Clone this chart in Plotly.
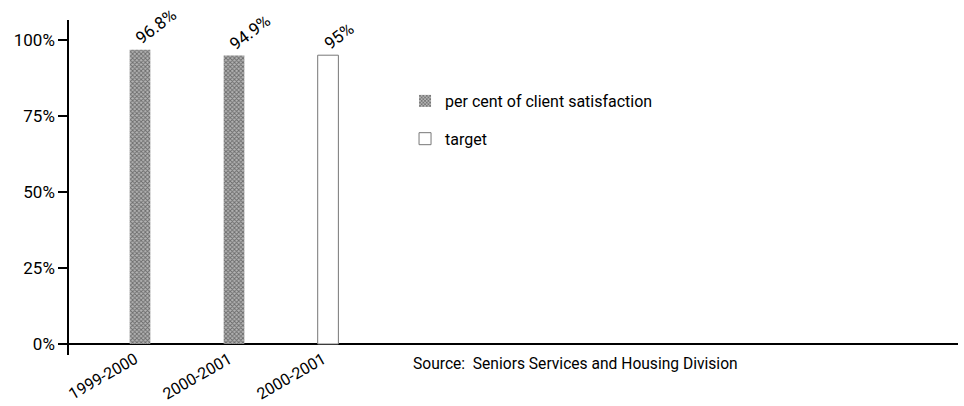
import plotly.graph_objects as go

categories = ["1999-2000", "2000-2001", "2000-2001"]
positions = [0, 1, 2]
satisfaction = [96.8, 94.9]
target = [95]
labels = ["96.8%", "94.9%", "95%"]
y_ticks = [0, 25, 50, 75, 100]
y_ticktext = ["0%", "25%", "50%", "75%", "100%"]

FONT = "Roboto, Open Sans, sans-serif"
BAR_W = 0.22

fig = go.Figure()
fig.add_trace(go.Bar(
    x=positions[:2], y=satisfaction, width=BAR_W,
    name="per cent of client satisfaction",
    marker=dict(color="#999", line=dict(width=0),
                pattern=dict(shape="x", fgcolor="#222", bgcolor="#b4b4b4", size=3, solidity=0.5)),
    legendgroup="a",
))
fig.add_trace(go.Bar(
    x=positions[2:], y=target, width=BAR_W,
    name="target",
    marker=dict(color="white", line=dict(width=1, color="#777")),
    legendgroup="b",
))

for xp, v, t in zip(positions, satisfaction + target, labels):
    fig.add_annotation(x=xp, y=v, text=t, showarrow=False, textangle=-37,
                       xanchor="left", yanchor="bottom", xshift=-11, yshift=-1,
                       font=dict(family=FONT, size=17, color="#000"))

fig.add_annotation(x=(411 - 69) / 889, y=-(364 - 355) / 335,
                   xref="paper", yref="paper",
                   text="Source:  Seniors Services and Housing Division",
                   showarrow=False, xanchor="left", yanchor="middle",
                   font=dict(family=FONT, size=15.6, color="#000"))

fig.update_layout(
    width=964, height=406,
    margin=dict(l=69, r=6, t=20, b=51),
    paper_bgcolor="white", plot_bgcolor="white",
    showlegend=True,
    legend=dict(x=0.378, y=0.809, xanchor="left", yanchor="top",
                font=dict(family=FONT, size=16, color="#000"),
                tracegroupgap=14, itemwidth=30, bgcolor="rgba(0,0,0,0)"),
    font=dict(family=FONT, size=17, color="#000"),
    xaxis=dict(range=[-0.755, 8.70], tickvals=positions, ticktext=categories,
               tickangle=-30, showgrid=False, zeroline=False, showline=False,
               ticks="", automargin=False, ticklabelstandoff=-9, ticklabelshift=-5,
               tickfont=dict(family=FONT, size=16)),
    yaxis=dict(range=[-3.62, 106.58], tickvals=y_ticks, ticktext=y_ticktext,
               showgrid=False, zeroline=True, zerolinecolor="#000", zerolinewidth=1.5,
               showline=True, linecolor="#000", linewidth=1.5, automargin=False,
               ticks="outside", ticklen=9, tickcolor="#000", tickwidth=1.5,
               tickfont=dict(family=FONT, size=17)),
)

fig.write_html("out.html")
